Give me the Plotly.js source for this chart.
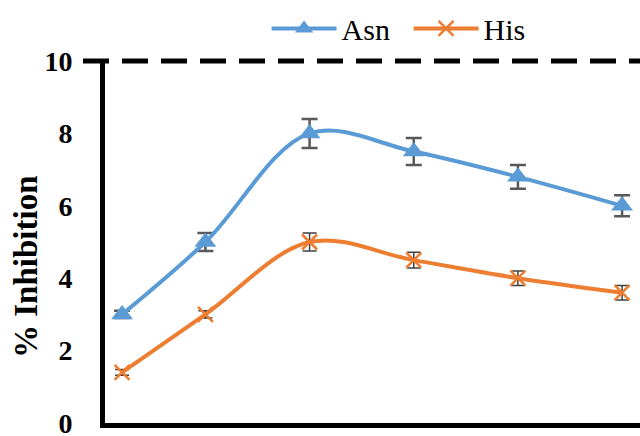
<!DOCTYPE html>
<html>
<head>
<meta charset="utf-8">
<script src="https://cdn.plot.ly/plotly-3.0.1.min.js"></script>
<style>html,body{margin:0;padding:0;background:#fff;}#chart{width:640px;height:436px;}</style>
</head>
<body>
<div id="chart"></div>
<script>
// Data
const xValues = [0.1, 0.5, 1.0, 1.5, 2.0, 2.5];
const asnValues = [3.0, 5.0, 8.0, 7.5, 6.8, 6.0];
const asnErrors = [0.1, 0.25, 0.4, 0.37, 0.33, 0.29];
const hisValues = [1.4, 3.0, 5.0, 4.5, 4.0, 3.6];
const hisErrors = [0.08, 0.1, 0.25, 0.22, 0.2, 0.2];
const yTickValues = [0, 2, 4, 6, 8, 10];
const yTickLabels = ["0", "2", "4", "6", "8", "10"];
const seriesNames = ["Asn", "His"];
const yTitle = "% Inhibition";

const serif = "Liberation Serif";

const traces = [
  {
    x: xValues, y: asnValues, name: seriesNames[0], type: "scatter", mode: "lines+markers",
    line: {color: "#5B9BD5", width: 4, shape: "spline", smoothing: 1},
    marker: {symbol: "triangle-up", size: 19, color: "#5B9BD5"},
    error_y: {type: "data", array: asnErrors, visible: true, color: "#595959", thickness: 2.5, width: 8}
  },
  {
    x: xValues, y: hisValues, name: seriesNames[1], type: "scatter", mode: "lines+markers",
    line: {color: "#ED7D31", width: 4, shape: "spline", smoothing: 1},
    marker: {symbol: "x-thin", size: 15, color: "#ED7D31", line: {color: "#ED7D31", width: 2.5}},
    error_y: {type: "data", array: hisErrors, visible: true, color: "#404040", thickness: 1.5, width: 7}
  }
];

// dashed top border
let dash = [];
for (let i = 0; i < 20; i++) dash.push("26px", "13px");

const layout = {
  width: 640, height: 436,
  margin: {l: 105, r: 0, t: 61, b: 13},
  paper_bgcolor: "#fff", plot_bgcolor: "#fff",
  font: {family: serif, color: "#000"},
  showlegend: true,
  legend: {
    orientation: "h", x: 0.302, xanchor: "left", y: 1.09, yanchor: "middle",
    itemwidth: 65, entrywidth: 62,
    font: {family: serif, size: 30, color: "#000"}, bgcolor: "rgba(0,0,0,0)"
  },
  xaxis: {
    range: [0.018, 2.586], showgrid: false, zeroline: false,
    showline: true, linecolor: "#000", linewidth: 5,
    showticklabels: false, ticks: "", fixedrange: true
  },
  yaxis: {
    range: [0, 10], tickvals: yTickValues, ticktext: yTickLabels,
    showgrid: false, zeroline: false, showline: true, linecolor: "#000", linewidth: 5,
    ticks: "", ticklabelstandoff: 22, ticklabeloverflow: "allow",
    tickfont: {family: serif, size: 28, color: "#000", weight: "bold"},
    fixedrange: true
  },
  annotations: [
    {text: yTitle, xref: "paper", yref: "paper", x: (26 - 105) / 535, y: (423 - 267) / 362,
     xanchor: "center", yanchor: "middle", textangle: -90, showarrow: false,
     font: {family: serif, size: 33, color: "#000", weight: "bold"}}
  ],
  shapes: [
    {type: "line", xref: "paper", yref: "paper", x0: (83 - 105) / 535, x1: 1.02, y0: 1, y1: 1,
     line: {color: "#000", width: 5, dash: dash.join(",")}}
  ]
};

Plotly.newPlot("chart", traces, layout, {displayModeBar: false, staticPlot: true});
</script>
</body>
</html>
